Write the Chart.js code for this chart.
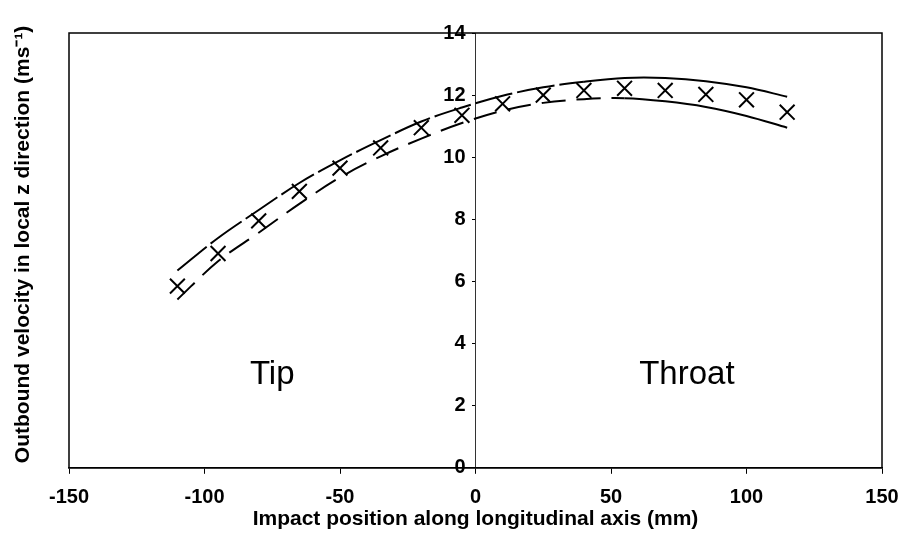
<!DOCTYPE html>
<html>
<head>
<meta charset="utf-8">
<script src="https://cdn.jsdelivr.net/npm/chart.js@4/dist/chart.umd.min.js"></script>
<style>
  html, body { margin: 0; padding: 0; background: #fff; }
  #wrap { width: 899px; height: 549px; }
</style>
</head>
<body>
<div id="wrap"><canvas id="velocityChart"></canvas></div>
<script>
// impact positions (mm) and outbound velocity (m/s)
const positions = [-110, -95, -80, -65, -50, -35, -20, -5, 10, 25, 40, 55, 70, 85, 100, 115];
const measured = [5.85, 6.9, 7.95, 8.9, 9.65, 10.3, 10.95, 11.35, 11.72, 12.0, 12.15, 12.22, 12.15, 12.02, 11.85, 11.45];
const upperBound = [6.35, 7.4, 8.3, 9.17, 9.9, 10.55, 11.15, 11.6, 11.98, 12.25, 12.43, 12.55, 12.55, 12.45, 12.25, 11.95];
const lowerBound = [5.42, 6.65, 7.57, 8.5, 9.35, 10.03, 10.6, 11.1, 11.5, 11.75, 11.87, 11.9, 11.8, 11.62, 11.33, 10.95];

const xTicks = [-150, -100, -50, 0, 50, 100, 150];
const yTicks = [0, 2, 4, 6, 8, 10, 12, 14];

const regionLabels = ["Tip", "Throat"];
const regionX = [-75, 78];
const regionY = 3.0;

const xTitle = "Impact position along longitudinal axis (mm)";
const yTitle = "Outbound velocity in local z direction (ms\u207B\u00B9)";

const FONT = "'Liberation Sans', Arial, sans-serif";

function toPoints(values) {
    return positions.map((x, i) => ({ x: x, y: values[i] }));
}

// frame round the plot area, region names and the left-hand axis title
const extras = {
    id: "extras",
    afterDatasetsDraw(chart) {
        const { ctx, chartArea } = chart;
        const xs = chart.scales.x;
        const ys = chart.scales.y;
        ctx.save();
        ctx.strokeStyle = "#000";
        ctx.lineWidth = 1.5;
        ctx.strokeRect(chartArea.left, chartArea.top, chartArea.right - chartArea.left, chartArea.bottom - chartArea.top);

        ctx.fillStyle = "#000";
        ctx.font = "33px " + FONT;
        ctx.textAlign = "center";
        ctx.textBaseline = "middle";
        regionLabels.forEach((label, i) => {
            ctx.fillText(label, xs.getPixelForValue(regionX[i]), ys.getPixelForValue(regionY));
        });

        ctx.font = "bold 21px " + FONT;
        ctx.translate(23, (chartArea.top + chartArea.bottom) / 2 - 6);
        ctx.rotate(-Math.PI / 2);
        ctx.fillText(yTitle, 0, 0);
        ctx.restore();
    },
};

const ctx = document.getElementById("velocityChart").getContext("2d");
new Chart(ctx, {
    type: "line",
    data: {
        datasets: [
            {
                label: "Upper",
                data: toPoints(upperBound),
                borderColor: "#000",
                borderWidth: 2,
                pointRadius: 0,
                tension: 0.35,
                fill: false,
                segment: {
                    borderDash: (c) => (c.p0.parsed.x >= 40 ? [] : [38, 5]),
                },
            },
            {
                label: "Lower",
                data: toPoints(lowerBound),
                borderColor: "#000",
                borderWidth: 2,
                pointRadius: 0,
                tension: 0.35,
                fill: false,
                segment: {
                    borderDash: (c) => (c.p0.parsed.x >= 55 ? [] : [24, 11]),
                },
            },
            {
                label: "Measured",
                data: toPoints(measured),
                showLine: false,
                pointStyle: "crossRot",
                pointRadius: 10.5,
                pointBorderWidth: 2,
                pointBorderColor: "#000",
                pointBackgroundColor: "#000",
            },
        ],
    },
    options: {
        responsive: true,
        maintainAspectRatio: false,
        animation: false,
        layout: {
            padding: { left: 69, right: 17, top: 33, bottom: 17 },
        },
        plugins: {
            legend: { display: false },
            tooltip: { enabled: false },
        },
        scales: {
            x: {
                type: "linear",
                min: -150,
                max: 150,
                afterBuildTicks: (scale) => {
                    scale.ticks = xTicks.map((v) => ({ value: v }));
                },
                // the "150" label may hang past the frame, don't shrink the plot for it
                afterFit: (scale) => {
                    scale.paddingLeft = 0;
                    scale.paddingRight = 0;
                },
                grid: {
                    drawOnChartArea: false,
                    color: "#000",
                    tickLength: 6,
                },
                border: { color: "#000", width: 1.5 },
                ticks: {
                    color: "#000",
                    font: { family: FONT, size: 20, weight: "bold" },
                    padding: 12,
                    maxRotation: 0,
                },
                title: {
                    display: true,
                    text: xTitle,
                    color: "#000",
                    font: { family: FONT, size: 21, weight: "bold" },
                    padding: { top: -15, bottom: 0 },
                },
            },
            y: {
                type: "linear",
                position: { x: 0 },
                min: 0,
                max: 14,
                afterBuildTicks: (scale) => {
                    scale.ticks = yTicks.map((v) => ({ value: v }));
                },
                grid: {
                    drawOnChartArea: false,
                    color: "#000",
                    tickLength: 3,
                },
                border: { color: "#333", width: 1, dash: [4, 2] },
                ticks: {
                    color: "#000",
                    font: { family: FONT, size: 20, weight: "bold" },
                    // labels sit left of the centre axis, keep a small gap
                    callback: (value) => value + "\u2002",
                },
            },
        },
    },
    plugins: [extras],
});
</script>
</body>
</html>
